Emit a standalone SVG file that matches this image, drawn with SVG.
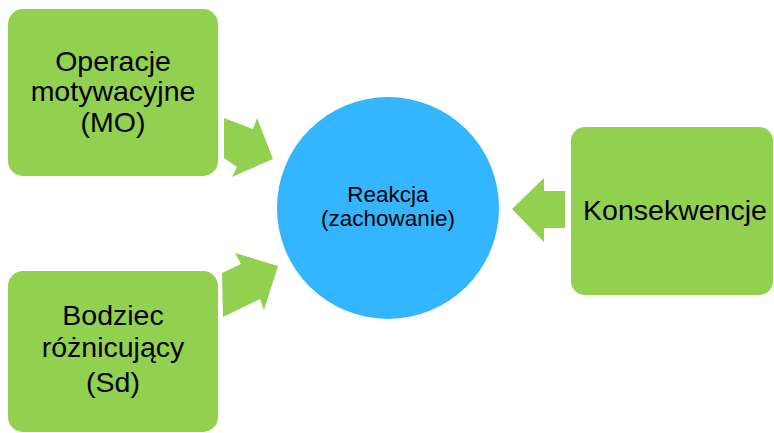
<svg xmlns="http://www.w3.org/2000/svg" width="774" height="433" viewBox="0 0 774 433">
<style>
.box{fill:#92D050}
.arr{fill:#92D050}
.t{font-family:"Liberation Sans",Arial,sans-serif;fill:#000;text-anchor:middle}
.big{font-size:28.5px}
.small{font-size:22.5px}
</style>
<rect width="774" height="433" fill="#fff"/>
<g id="connectors">
<polygon class="arr" points="224,118 253,129 257,118 273,159 232,177 237,167 224,158"/>
<polygon class="arr" points="222,273 241,264 235,253 278,266 264,310 260,299 223,317"/>
<polygon class="arr" points="565,191 544,191 544,178 512,209 544,242 544,228 565,228"/>
</g>
<g id="mo">
<rect class="box" x="8" y="9" width="210" height="167" rx="15"/>
<text class="t big" x="113" y="71">Operacje</text>
<text class="t big" x="113" y="101">motywacyjne</text>
<text class="t big" x="113" y="132">(MO)</text>
</g>
<g id="sd">
<rect class="box" x="8" y="271" width="210" height="161" rx="15"/>
<text class="t big" x="113" y="325">Bodziec</text>
<text class="t big" x="113" y="357">różnicujący</text>
<text class="t big" x="113" y="392">(Sd)</text>
</g>
<g id="reakcja">
<circle cx="388" cy="208" r="111" fill="#33B5FF"/>
<text class="t small" x="388" y="202">Reakcja</text>
<text class="t small" x="388" y="226">(zachowanie)</text>
</g>
<g id="konsekwencje">
<rect class="box" x="571" y="127" width="202" height="168" rx="14"/>
<text class="t big" x="675" y="220">Konsekwencje</text>
</g>
</svg>
